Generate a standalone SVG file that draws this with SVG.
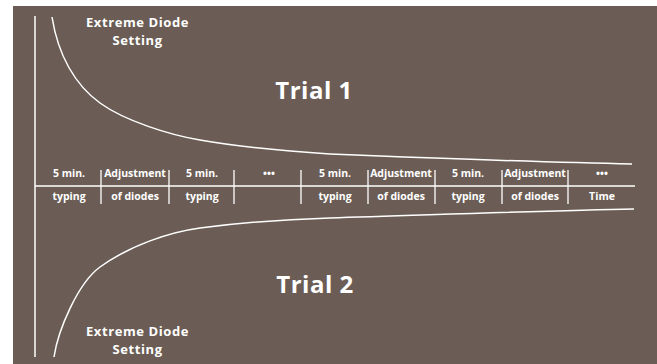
<svg xmlns="http://www.w3.org/2000/svg" width="657" height="364" viewBox="0 0 657 364">
<style>
.ln{stroke:#fff;fill:none;stroke-width:1.5}
.dv{stroke:#fff;fill:none;stroke-width:1.3}
.t{font-family:"Open Sans","Liberation Sans",sans-serif;font-weight:bold;fill:#fff;text-anchor:middle}
.s{font-size:10.5px}
.h{font-size:13px;letter-spacing:0.6px}
.big{font-size:24px;letter-spacing:0.5px}
</style>
<rect x="0" y="0" width="657" height="364" fill="#ffffff"/>
<rect x="13" y="6" width="644" height="358" fill="#6b5d55"/>
<g id="axes">
<line class="ln" x1="35" y1="16" x2="35" y2="357"/>
<line class="dv" x1="35" y1="186" x2="635" y2="186"/>
</g>
<g id="curves">
<path class="ln" d="M52,17 C58,55 75,85 100,103 C125,121 170,135 200,140 C240,147 290,151.6 330,154 C430,158 550,162.5 632,164"/>
<path class="ln" d="M54,357 C58,330 78,283 100,267 C130,245.4 170,232 200,228 C240,222.8 290,219.2 330,218 C430,215 550,210.5 634,209"/>
</g>
<g id="dividers">
<line class="dv" x1="101" y1="170" x2="101" y2="204"/>
<line class="dv" x1="169" y1="170" x2="169" y2="204"/>
<line class="dv" x1="234" y1="170" x2="234" y2="204"/>
<line class="dv" x1="301" y1="170" x2="301" y2="204"/>
<line class="dv" x1="368" y1="170" x2="368" y2="204"/>
<line class="dv" x1="435" y1="170" x2="435" y2="204"/>
<line class="dv" x1="502" y1="170" x2="502" y2="204"/>
<line class="dv" x1="568" y1="170" x2="568" y2="204"/>
</g>
<g id="labels-top">
<text class="t s" x="69" y="177">5 min.</text>
<text class="t s" x="135" y="177">Adjustment</text>
<text class="t s" x="202" y="177">5 min.</text>
<text class="t s" x="269" y="177">•••</text>
<text class="t s" x="335" y="177">5 min.</text>
<text class="t s" x="401" y="177">Adjustment</text>
<text class="t s" x="468" y="177">5 min.</text>
<text class="t s" x="535" y="177">Adjustment</text>
<text class="t s" x="602" y="177">•••</text>
</g>
<g id="labels-bottom">
<text class="t s" x="69" y="200">typing</text>
<text class="t s" x="135" y="200">of diodes</text>
<text class="t s" x="202" y="200">typing</text>
<text class="t s" x="335" y="200">typing</text>
<text class="t s" x="401" y="200">of diodes</text>
<text class="t s" x="468" y="200">typing</text>
<text class="t s" x="535" y="200">of diodes</text>
<text class="t s" x="602" y="200">Time</text>
</g>
<g id="trial1">
<text class="t big" x="314" y="99">Trial 1</text>
</g>
<g id="trial2">
<text class="t big" x="315" y="293">Trial 2</text>
</g>
<g id="extreme-top">
<text class="t h" x="137.5" y="27">Extreme Diode</text>
<text class="t h" x="137.5" y="45">Setting</text>
</g>
<g id="extreme-bottom">
<text class="t h" x="137.5" y="336">Extreme Diode</text>
<text class="t h" x="137.5" y="354">Setting</text>
</g>
</svg>
